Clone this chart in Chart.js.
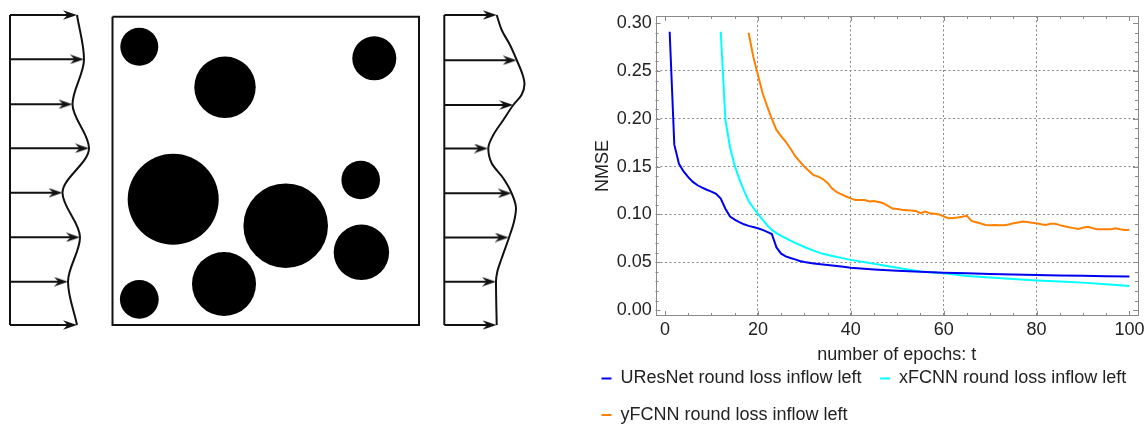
<!DOCTYPE html>
<html>
<head>
<meta charset="utf-8">
<script src="https://cdn.jsdelivr.net/npm/chart.js@4.4.1/dist/chart.umd.min.js"></script>
<style>
html,body{margin:0;padding:0;background:#fff;overflow:hidden;width:1145px;height:425px;}
#diagram{position:absolute;left:0;top:0;width:560px;height:340px;}
#loss{position:absolute;left:583px;top:0;width:600px;height:434px;}
</style>
</head>
<body>
<canvas id="diagram" width="560" height="340"></canvas>
<canvas id="loss" width="600" height="434"></canvas>
<script>
// ---------------- loss chart data ----------------
const seriesNames = ['UResNet round loss inflow left', 'xFCNN round loss inflow left', 'yFCNN round loss inflow left'];
const seriesColors = ['#0000f0', '#00ffff', '#ff8000'];

const uresEpochs = [1,2,3,4,5,6,7,8,9,10,11,12,13,14,15,16,17,18,19,20,21,22,23,24,25,26,27,28,29,30,32,34,36,38,40,45,50,55,60,65,70,75,80,85,90,95,100];
const uresNmse = [0.291,0.173,0.153,0.145,0.139,0.134,0.1305,0.128,0.1258,0.1238,0.1215,0.1165,0.106,0.0978,0.0945,0.092,0.0897,0.088,0.0868,0.0855,0.0838,0.0818,0.0795,0.0655,0.059,0.0562,0.0545,0.053,0.0513,0.0502,0.0488,0.0476,0.0465,0.0455,0.0442,0.0425,0.0411,0.0400,0.0391,0.0384,0.0378,0.0372,0.0367,0.0362,0.0358,0.0354,0.0350];

const xfcnnEpochs = [12,13,14,15,16,17,18,19,20,21,22,23,24,25,26,27,28,30,32,34,36,38,40,45,50,55,60,65,70,75,80,85,90,95,100];
const xfcnnNmse = [0.291,0.199,0.170,0.151,0.137,0.125,0.114,0.107,0.1005,0.0945,0.0885,0.0838,0.0805,0.0777,0.0752,0.0727,0.0703,0.0660,0.0622,0.0588,0.0566,0.0546,0.0525,0.0484,0.0443,0.0404,0.0385,0.0356,0.0340,0.0325,0.0309,0.0298,0.0287,0.0271,0.0252];

const yfcnnFirstEpoch = 18;
const yfcnnNmse = [0.290,0.265,0.246,0.227,0.213,0.200,0.1884,0.182,0.176,0.169,
  0.1612,0.1555,0.150,0.1455,0.141,0.1395,0.137,0.133,0.127,0.1232,
  0.121,0.1188,0.1168,0.1150,0.1150,0.1150,0.1135,0.1140,0.1130,0.1117,
  0.1090,0.1062,0.1058,0.1050,0.1045,0.1040,0.1035,0.1013,0.1030,0.1013,
  0.1008,0.1000,0.0980,0.0960,0.0963,0.0967,0.0975,0.0985,0.0932,0.0918,
  0.0905,0.0890,0.0888,0.0890,0.0888,0.0887,0.0895,0.0908,0.0915,0.0925,
  0.0920,0.0913,0.0908,0.0898,0.0890,0.0902,0.0903,0.0888,0.0876,0.0865,
  0.0857,0.0848,0.0860,0.0872,0.0858,0.0845,0.0845,0.0845,0.0845,0.0855,
  0.0845,0.0838,0.0841];
const yfcnnEpochs = yfcnnNmse.map((_, i) => yfcnnFirstEpoch + i);

const xTickValues = [0, 20, 40, 60, 80, 100];
const yTickValues = [0, 0.05, 0.10, 0.15, 0.20, 0.25, 0.30];
const xMinorStep = 5;
const yMinorStep = 0.01;

// ---------------- diagram data ----------------
const circleX = [139.3, 225, 374.3, 173.2, 285.7, 360.7, 361.4, 224, 139.3];
const circleY = [46.7, 87.3, 58.3, 199.3, 225.7, 180, 252.3, 284, 299.3];
const circleR = [19, 30.7, 22, 45.5, 42.3, 19.3, 27.7, 32, 19.4];
const boxX = [112.5, 419, 419, 112.5, 112.5];
const boxY = [16.7, 16.7, 325, 325, 16.7];

const inflowBaseX = 10;
const inflowArrowY = [15, 59.3, 104.3, 148.3, 192.7, 237.3, 281.7, 325];
const inflowProfileX = [77, 84, 72.5, 89, 62.5, 80, 68, 77];

const outflowBaseX = 444.3;
const outflowArrowY = [15, 60.3, 105, 148.5, 193.3, 237.5, 281.7, 325];
const outflowArrowTip = [496.7, 516.7, 513.3, 488, 511.7, 508.7, 496, 496.5];
const outflowCurveY = [15, 30, 45, 60, 75, 84, 95, 105, 120, 135, 148.3, 163.3, 178.3, 193.3, 208.3, 221.7, 236.7, 258.3, 271.7, 281.7, 325];
const outflowCurveX = [496.7, 501.7, 510, 516.7, 522.7, 524.5, 521.5, 513.3, 503.3, 493.3, 488.3, 491.7, 503.3, 511.7, 516, 514, 509.3, 501.7, 497.3, 496, 496.7];

const FONT = '"Liberation Sans", Arial, Helvetica, sans-serif';
const INK = '#111';

// ---------------- diagram chart ----------------
function zip(xs, ys) { return xs.map((x, i) => ({x: x, y: ys[i]})); }

const head = document.createElement('canvas');
head.width = 14; head.height = 10;
(function () {
  const c = head.getContext('2d');
  c.fillStyle = INK;
  c.beginPath();
  c.moveTo(14, 5); c.lineTo(0, 0.3); c.lineTo(4.5, 5); c.lineTo(0, 9.7); c.closePath();
  c.fill();
})();
const HEAD_HALF = head.width / 2;

const diagramSets = [];
diagramSets.push({
  type: 'bubble',
  data: circleX.map((x, i) => ({x: x, y: circleY[i], r: circleR[i]})),
  backgroundColor: '#000', borderWidth: 0, hoverRadius: 0, clip: false
});
function lineSet(points) {
  return {type: 'scatter', showLine: true, data: points, borderColor: INK, borderWidth: 2,
    pointRadius: 0, tension: 0, fill: false, clip: false, borderJoinStyle: 'miter'};
}
function profileSet(points) {
  return Object.assign(lineSet(points), {indexAxis: 'y', cubicInterpolationMode: 'monotone', borderJoinStyle: 'round'});
}
diagramSets.push(lineSet(zip(boxX, boxY)));
// inflow side
diagramSets.push(lineSet([{x: inflowBaseX, y: inflowArrowY[0]}, {x: inflowBaseX, y: inflowArrowY[inflowArrowY.length - 1]}]));
diagramSets.push(profileSet(zip(inflowProfileX, inflowArrowY)));
inflowArrowY.forEach((y, i) => {
  diagramSets.push(lineSet([{x: inflowBaseX, y: y}, {x: inflowProfileX[i] - HEAD_HALF, y: y}]));
});
diagramSets.push({type: 'scatter', data: inflowArrowY.map((y, i) => ({x: inflowProfileX[i] - HEAD_HALF, y: y})),
  pointStyle: head, pointRadius: 5, clip: false});
// outflow side
diagramSets.push(lineSet([{x: outflowBaseX, y: outflowArrowY[0]}, {x: outflowBaseX, y: outflowArrowY[outflowArrowY.length - 1]}]));
diagramSets.push(profileSet(zip(outflowCurveX, outflowCurveY)));
outflowArrowY.forEach((y, i) => {
  diagramSets.push(lineSet([{x: outflowBaseX, y: y}, {x: outflowArrowTip[i] - HEAD_HALF, y: y}]));
});
diagramSets.push({type: 'scatter', data: outflowArrowY.map((y, i) => ({x: outflowArrowTip[i] - HEAD_HALF, y: y})),
  pointStyle: head, pointRadius: 5, clip: false});

new Chart(document.getElementById('diagram'), {
  type: 'scatter',
  data: {datasets: diagramSets},
  options: {
    responsive: false, animation: false, devicePixelRatio: 1, events: [],
    layout: {padding: 0, autoPadding: false},
    plugins: {legend: {display: false}, tooltip: {enabled: false}},
    scales: {
      x: {type: 'linear', min: 0, max: 560, display: false},
      y: {type: 'linear', min: 0, max: 340, reverse: true, display: false}
    }
  }
});

// ---------------- loss chart ----------------
const GRID = '#8a8a8a';
const framePlugin = {
  id: 'frameTicks',
  beforeDatasetsDraw(chart) {
    const {ctx, chartArea: a} = chart;
    const xs = chart.scales.x, ys = chart.scales.y;
    ctx.save();
    ctx.strokeStyle = GRID;
    ctx.lineWidth = 1;
    ctx.setLineDash([]);
    ctx.strokeRect(Math.round(a.left) + 0.5, Math.round(a.top) + 0.5, Math.round(a.width) - 1, Math.round(a.height) - 1);
    ctx.beginPath();
    const xMax = xTickValues[xTickValues.length - 1];
    for (let v = xTickValues[0]; v <= xMax + 1e-9; v += xMinorStep) {
      const px = Math.round(xs.getPixelForValue(v)) + 0.5;
      const len = xTickValues.includes(v) ? 5 : 3;
      ctx.moveTo(px, a.bottom); ctx.lineTo(px, a.bottom - len);
      ctx.moveTo(px, a.top); ctx.lineTo(px, a.top + len);
    }
    const yMax = yTickValues[yTickValues.length - 1];
    const nMinor = Math.round(yMax / yMinorStep);
    for (let k = 0; k <= nMinor; k++) {
      const v = k * yMinorStep;
      const py = Math.round(ys.getPixelForValue(v)) + 0.5;
      const len = (k % 5 === 0) ? 5 : 3;
      ctx.moveTo(a.left, py); ctx.lineTo(a.left + len, py);
      ctx.moveTo(a.right, py); ctx.lineTo(a.right - len, py);
    }
    ctx.stroke();
    ctx.restore();
  }
};

const lossSets = [
  {label: seriesNames[0], data: zip(uresEpochs, uresNmse), borderColor: seriesColors[0]},
  {label: seriesNames[1], data: zip(xfcnnEpochs, xfcnnNmse), borderColor: seriesColors[1]},
  {label: seriesNames[2], data: zip(yfcnnEpochs, yfcnnNmse), borderColor: seriesColors[2]}
].map(d => Object.assign(d, {backgroundColor: d.borderColor, borderWidth: 2, pointRadius: 0, tension: 0, fill: false}));

new Chart(document.getElementById('loss'), {
  type: 'line',
  data: {datasets: lossSets},
  plugins: [framePlugin],
  options: {
    responsive: false, animation: false, devicePixelRatio: 1, events: [],
    layout: {padding: {top: 16, left: 0, right: 0, bottom: 0}},
    plugins: {
      tooltip: {enabled: false},
      legend: {
        display: true, position: 'bottom', align: 'start',
        labels: {
          font: {family: FONT, size: 18}, color: '#222',
          boxWidth: 10, boxHeight: 2, padding: 18.5,
          generateLabels(chart) {
            return chart.data.datasets.map((ds, i) => ({
              text: ds.label, fillStyle: ds.borderColor, strokeStyle: ds.borderColor,
              lineWidth: 0, hidden: false, datasetIndex: i, fontColor: '#222'
            }));
          }
        }
      }
    },
    scales: {
      x: {
        type: 'linear', min: -2.05, max: 101.85,
        afterBuildTicks(s) { s.ticks = xTickValues.map(v => ({value: v})); },
        afterFit(s) { s.height = 35; },
        ticks: {font: {family: FONT, size: 18}, color: '#222', padding: 2.9, maxRotation: 0, autoSkip: false,
          callback: v => String(v)},
        grid: {drawTicks: false, lineWidth: 1,
          color: c => (c.tick && (c.tick.value === xTickValues[0] || c.tick.value === xTickValues[xTickValues.length - 1])) ? 'rgba(0,0,0,0)' : GRID},
        border: {display: false, dash: [2, 2.5]},
        title: {display: true, text: 'number of epochs: t', font: {family: FONT, size: 18}, color: '#222',
          padding: {top: 0, bottom: -14.5}}
      },
      y: {
        type: 'linear', position: 'left', min: -0.0062, max: 0.3075,
        afterBuildTicks(s) { s.ticks = yTickValues.map(v => ({value: v})); },
        afterFit(s) { s.width = 72.5; },
        ticks: {font: {family: FONT, size: 18}, color: '#222', padding: 3.8, autoSkip: false,
          callback: v => Number(v).toFixed(2)},
        grid: {drawTicks: false, lineWidth: 1,
          color: c => (c.tick && (Math.abs(c.tick.value - yTickValues[0]) < 1e-9 || Math.abs(c.tick.value - yTickValues[yTickValues.length - 1]) < 1e-9)) ? 'rgba(0,0,0,0)' : GRID},
        border: {display: false, dash: [2, 2.5]},
        title: {display: true, text: 'NMSE', font: {family: FONT, size: 18}, color: '#222',
          padding: {top: 9.2, bottom: 0}}
      },
      yR: {
        type: 'linear', position: 'right', display: true,
        grid: {display: false, drawTicks: false}, ticks: {display: false}, border: {display: false},
        afterFit(s) { s.width = 45; }
      }
    }
  }
});
</script>
</body>
</html>
